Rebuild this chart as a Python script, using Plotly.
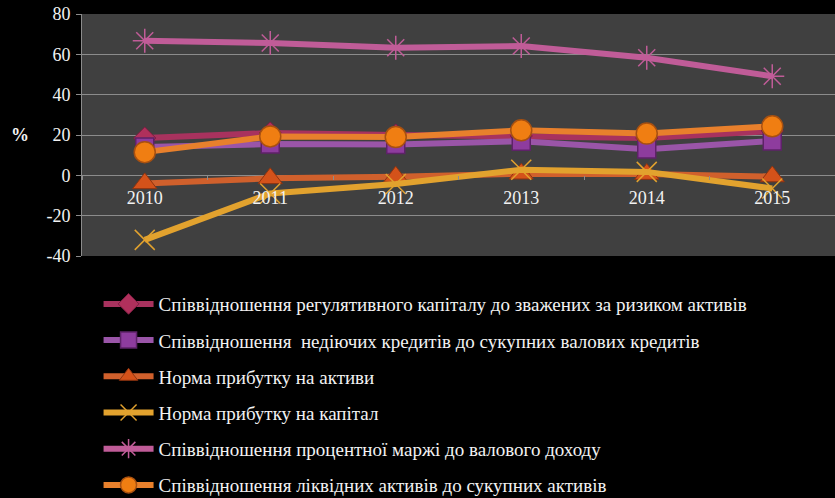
import plotly.graph_objects as go

years = ["2010", "2011", "2012", "2013", "2014", "2015"]

capital_ratio = [18.5, 21.0, 20.0, 19.5, 18.5, 22.0]
npl_ratio = [14.0, 15.5, 15.3, 16.9, 13.0, 17.0]
roa = [-4.0, -1.5, -0.7, 0.8, 0.6, -0.6]
roe = [-32.0, -9.0, -4.3, 2.8, 1.7, -6.5]
margin_ratio = [66.7, 65.6, 63.3, 64.1, 58.3, 49.1]
liquid_ratio = [11.5, 19.3, 19.0, 22.3, 20.7, 24.3]

y_ticks = [-40, -20, 0, 20, 40, 60, 80]
y_tick_labels = ["-40", "-20", "0", "20", "40", "60", "80"]

names = [
    "Співвідношення регулятивного капіталу до зважених за ризиком активів",
    "Співвідношення  недіючих кредитів до сукупних валових кредитів",
    "Норма прибутку на активи",
    "Норма прибутку на капітал",
    "Співвідношення процентної маржі до валового доходу",
    "Співвідношення ліквідних активів до сукупних активів",
]

series = [capital_ratio, npl_ratio, roa, roe, margin_ratio, liquid_ratio]

# line colour, marker symbol, marker fill, marker outline, outline width, size
styles = [
    ("#A8325E", "diamond", "#B0305C", "#7A1E40", 1, 17),
    ("#9A55A8", "square", "#8E3C9E", "#5E2268", 1.5, 18),
    ("#D0602C", "triangle-up", "#D4521A", "#8E3410", 1, 21),
    ("#E2A22E", "x-thin-open", "#E2A22E", "#E2A22E", 1.5, 20),
    ("#C05C98", "asterisk-open", "#C05C98", "#C05C98", 1.5, 20),
    ("#E8802C", "circle", "#F07E12", "#A85010", 1.5, 21),
]

fig = go.Figure()
for i, (name, vals, st) in enumerate(zip(names, series, styles)):
    lc, sym, fill, outline, ow, sz = st
    fig.add_trace(go.Scatter(
        x=years, y=vals, name=name, mode="lines+markers",
        legendgroup=str(i),
        line=dict(color=lc, width=6),
        marker=dict(symbol=sym, size=sz, color=fill,
                    line=dict(color=outline, width=ow)),
    ))

ymin, ymax = -40, 80
font = "Liberation Serif, Times New Roman, serif"

fig.update_layout(
    width=835, height=498,
    margin=dict(l=82, r=0, t=14, b=242, autoexpand=False),
    paper_bgcolor="black",
    plot_bgcolor="#404040",
    font=dict(family=font, size=18, color="#f2f2f2"),
    showlegend=True,
    legend=dict(
        x=0.022, y=-0.12, xanchor="left", yanchor="top",
        orientation="v", tracegroupgap=8.5, itemwidth=50,
        font=dict(family=font, size=19, color="#f2f2f2"),
        bgcolor="rgba(0,0,0,0)",
    ),
    xaxis=dict(
        type="category", range=[-0.5, 5.5], automargin=False,
        anchor="free", position=(0 - ymin) / (ymax - ymin),
        showgrid=False, zeroline=False, showline=False,
        ticks="outside", tickson="boundaries", ticklen=4, tickcolor="#8c8c8c",
        tickfont=dict(family=font, size=18, color="#f2f2f2"),
        ticklabelstandoff=10,
    ),
    yaxis=dict(
        range=[ymin, ymax], automargin=False,
        tickvals=y_ticks, ticktext=y_tick_labels,
        showgrid=True, gridcolor="#8c8c8c", gridwidth=1,
        zeroline=True, zerolinecolor="#8c8c8c", zerolinewidth=1,
        showline=True, linecolor="#8c8c8c", linewidth=1,
        ticks="outside", ticklen=5, tickcolor="#8c8c8c",
        tickfont=dict(family=font, size=18, color="#f2f2f2"),
        ticklabelstandoff=2,
    ),
    annotations=[dict(
        text="<b>%</b>", xref="paper", yref="paper",
        x=-0.083, y=0.5, xanchor="center", showarrow=False,
        font=dict(family=font, size=18, color="#f2f2f2"),
    )],
)

fig.write_html("out.html", config={"displayModeBar": False},
               post_script="document.body.style.margin='0';")
